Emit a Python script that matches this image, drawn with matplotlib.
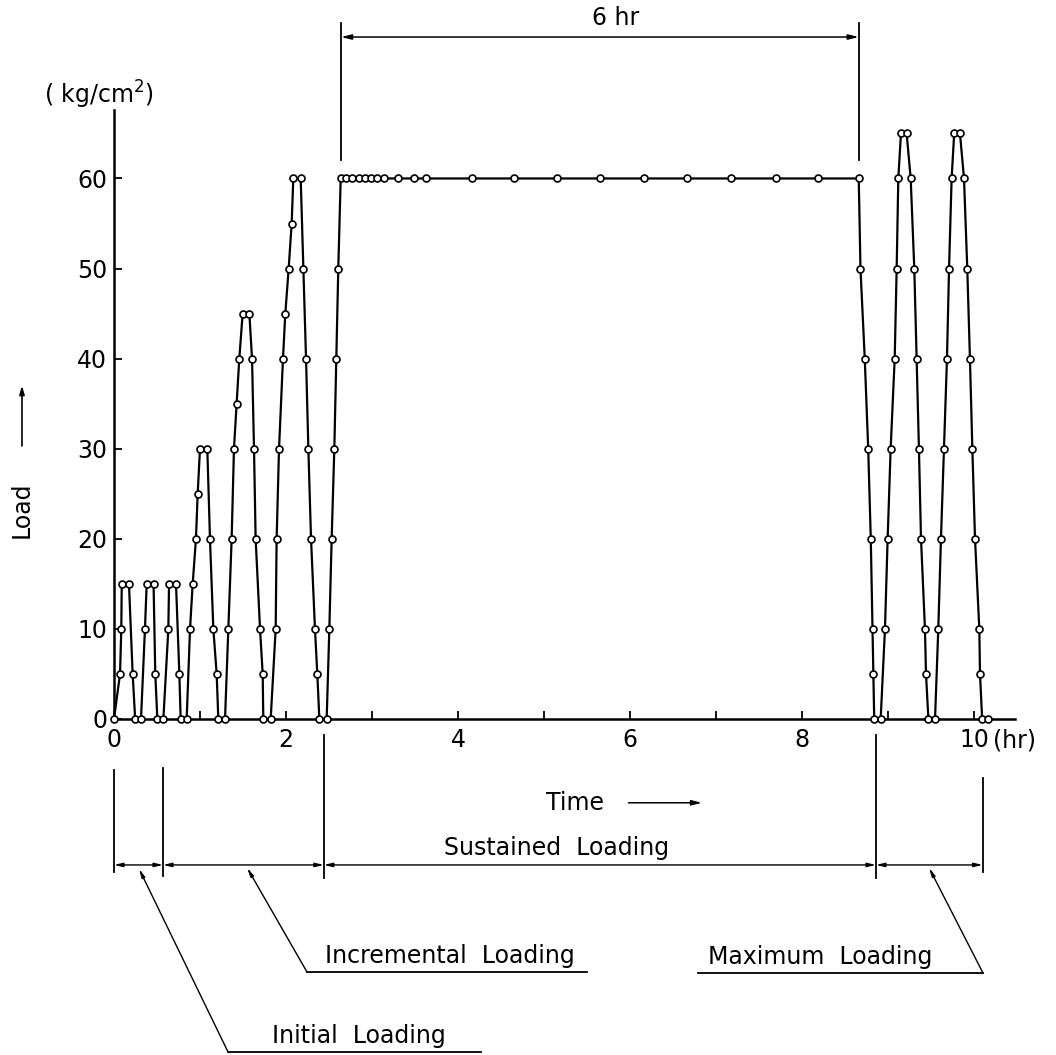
import matplotlib
matplotlib.use("Agg")
import matplotlib.pyplot as plt
import numpy as np

# time (hr) and load (kg/cm2), by loading phase
t_initial = [0, 0.07, 0.085, 0.09, 0.174, 0.217, 0.246,
             0.314, 0.36, 0.38, 0.46, 0.48, 0.504, 0.574]
load_initial = [0, 5, 10, 15, 15, 5, 0,
                0, 10, 15, 15, 5, 0, 0]

t_incremental = [0.632, 0.64, 0.721, 0.76, 0.775, 0.845,
                 0.884, 0.915, 0.953, 0.973, 1.0, 1.085, 1.116, 1.155, 1.194, 1.213, 1.291,
                 1.329, 1.368, 1.395, 1.426, 1.457, 1.496, 1.574, 1.605, 1.628, 1.647,
                 1.698, 1.729, 1.736, 1.822,
                 1.88, 1.891, 1.919, 1.965, 1.992, 2.031, 2.066, 2.085, 2.171, 2.202,
                 2.233, 2.26, 2.291, 2.337, 2.364, 2.388, 2.473]
load_incremental = [10, 15, 15, 5, 0, 0,
                    10, 15, 20, 25, 30, 30, 20, 10, 5, 0, 0,
                    10, 20, 30, 35, 40, 45, 45, 40, 30, 20,
                    10, 5, 0, 0,
                    10, 20, 30, 40, 45, 50, 55, 60, 60, 50,
                    40, 30, 20, 10, 5, 0, 0]

t_sustained = [2.504, 2.531, 2.562, 2.585, 2.608, 2.636,
               2.700, 2.771, 2.847, 2.922, 2.993, 3.064, 3.140, 3.298, 3.483, 3.633,
               4.164, 4.657, 5.155, 5.657, 6.163, 6.665, 7.175, 7.698, 8.192, 8.66,
               8.68, 8.73, 8.77, 8.80, 8.82, 8.83, 8.84]
load_sustained = [10, 20, 30, 40, 50, 60,
                  60, 60, 60, 60, 60, 60, 60, 60, 60, 60,
                  60, 60, 60, 60, 60, 60, 60, 60, 60, 60,
                  50, 40, 30, 20, 10, 5, 0]

t_maximum = [8.915, 8.965, 8.996, 9.031, 9.078, 9.101, 9.12, 9.151, 9.217, 9.264,
             9.306, 9.333, 9.36, 9.384, 9.43, 9.442, 9.47,
             9.547, 9.585, 9.616, 9.651, 9.686, 9.71, 9.74, 9.77, 9.837, 9.884,
             9.922, 9.953, 9.981, 10.012, 10.062, 10.07, 10.095, 10.167]
load_maximum = [0, 10, 20, 30, 40, 50, 60, 65, 65, 60,
                50, 40, 30, 20, 10, 5, 0,
                0, 10, 20, 30, 40, 50, 60, 65, 65, 60,
                50, 40, 30, 20, 10, 5, 0, 0]

# phase boundaries (hr) and names
bounds = [0, 0.57, 2.44, 8.86, 10.10]
x_ticks = list(range(11))
x_labels = ["0", "", "2", "", "4", "", "6", "", "8", "", "10"]
y_ticks = [0, 10, 20, 30, 40, 50, 60]

t = np.concatenate([t_initial, t_incremental, t_sustained, t_maximum])
load = np.concatenate([load_initial, load_incremental, load_sustained, load_maximum])

fig = plt.figure(figsize=(10.56, 10.55), dpi=100)
ax = fig.add_axes([114 / 1056, 1 - 719 / 1055, 901 / 1056, 609 / 1055])

ax.plot(t, load, color="black", lw=1.6, marker="o", ms=5.0,
        mfc="white", mec="black", mew=1.2, clip_on=False, zorder=3)

ax.set_xlim(0, 10.477)
ax.set_ylim(0, 67.6)
for s in ["top", "right"]:
    ax.spines[s].set_visible(False)
for s in ["left", "bottom"]:
    ax.spines[s].set_linewidth(1.8)

ax.set_xticks(x_ticks)
ax.set_xticklabels(x_labels)
ax.set_yticks(y_ticks)
ax.tick_params(direction="in", length=6, width=1.3, labelsize=17, colors="black")
ax.tick_params(axis="x", pad=6.5)
ax.tick_params(axis="y", pad=5)

ax.text(10.22, -2.35, "(hr)", fontsize=17, ha="left", va="center")
ax.text(-0.18, 69.3, "( kg/cm$^2$)", fontsize=17, ha="center", va="center")

# y label with arrow
ax.text(-1.07, 23.2, "Load", rotation=90, fontsize=17, ha="center", va="center")
ax.annotate("", xy=(-1.07, 37.3), xytext=(-1.07, 30.0),
            arrowprops=dict(arrowstyle="-|>,head_length=0.5,head_width=0.15",
                            color="black", lw=1.2), annotation_clip=False)

# time label with arrow
ax.text(5.36, -9.3, "Time", fontsize=17, ha="center", va="center")
ax.annotate("", xy=(6.87, -9.3), xytext=(5.95, -9.3),
            arrowprops=dict(arrowstyle="-|>,head_length=0.6,head_width=0.15",
                            color="black", lw=1.1), annotation_clip=False)

# 6 hr dimension at top
for xv in [2.64, 8.66]:
    ax.plot([xv, xv], [62.0, 77.3], color="black", lw=1.3, clip_on=False)
ax.annotate("", xy=(2.64, 75.7), xytext=(8.66, 75.7),
            arrowprops=dict(arrowstyle="<|-|>,head_length=0.6,head_width=0.15",
                            color="black", lw=1.1, shrinkA=0, shrinkB=0),
            annotation_clip=False)
ax.text(5.83, 77.8, "6 hr", fontsize=17, ha="center", va="center")

# phase boundary lines below the axis
v_top = [-5.66, -5.44, -1.78, -1.78, -6.55]
v_bot = [-16.98, -17.4, -17.6, -17.6, -16.98]
for xv, a, b in zip(bounds, v_top, v_bot):
    ax.plot([xv, xv], [a, b], color="black", lw=1.3, clip_on=False)

y_dim = -16.2
for a, b in zip(bounds[:-1], bounds[1:]):
    ax.annotate("", xy=(a, y_dim), xytext=(b, y_dim),
                arrowprops=dict(arrowstyle="<|-|>,head_length=0.5,head_width=0.12",
                                color="black", lw=1.0, shrinkA=0, shrinkB=0),
                annotation_clip=False)

ax.text(5.15, -15.7, "Sustained  Loading", fontsize=17, ha="center", va="bottom")

# leader lines to phase names
leaders = [
    ((0.29, -16.6), (1.326, -36.96), (1.326, 4.267), 2.85, "Initial  Loading"),
    ((1.547, -16.5), (2.244, -28.08), (2.244, 5.5), 3.91, "Incremental  Loading"),
    ((9.477, -16.5), (10.105, -28.2), (6.79, 10.105), 8.21, "Maximum  Loading"),
]
for top, bot, (u0, u1), xt, label in leaders:
    ax.annotate("", xy=top, xytext=bot,
                arrowprops=dict(arrowstyle="-|>,head_length=0.5,head_width=0.1",
                                color="black", lw=1.0, shrinkA=0, shrinkB=0),
                annotation_clip=False)
    ax.plot([u0, u1], [bot[1], bot[1]], color="black", lw=1.3, clip_on=False)
    ax.text(xt, bot[1] + 0.4, label, fontsize=17, ha="center", va="bottom")

fig.savefig("out.png", dpi=100)
